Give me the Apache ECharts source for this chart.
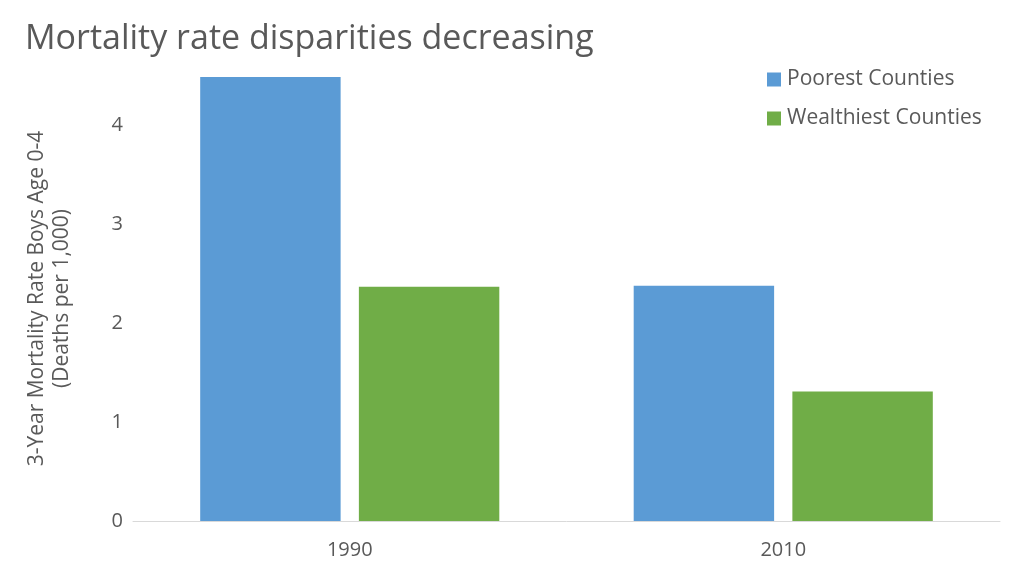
<!DOCTYPE html>
<html>
<head>
<meta charset="utf-8">
<script src="https://cdn.jsdelivr.net/npm/echarts@6/dist/echarts.min.js"></script>
<style>
  html, body { margin: 0; padding: 0; background: #fff; }
  #chart { width: 1024px; height: 576px; }
</style>
</head>
<body>
<div id="chart"></div>
<script>
var years = ['1990', '2010'];
var poorest = [4.49, 2.38];
var wealthiest = [2.37, 1.31];
var seriesNames = ['Poorest Counties', 'Wealthiest Counties'];

var myChart = echarts.init(document.getElementById('chart'));
var option = {
    animation: false,
    textStyle: { fontFamily: 'Open Sans', color: '#595959' },
    title: {
        text: 'Mortality rate disparities decreasing',
        left: 20,
        top: 17,
        textStyle: { fontFamily: 'Open Sans', fontSize: 34, fontWeight: 'normal', color: '#595959' }
    },
    legend: {
        data: seriesNames,
        orient: 'vertical',
        left: 762,
        top: 64,
        itemWidth: 14,
        itemHeight: 14,
        itemGap: 18,
        icon: 'rect',
        textStyle: { fontSize: 21, color: '#595959', padding: [0, 0, 0, 1] }
    },
    grid: { left: 133, right: 24, top: 76, bottom: 55 },
    xAxis: {
        type: 'category',
        data: years,
        axisLine: { lineStyle: { color: '#d9d9d9', width: 1 } },
        axisTick: { show: false },
        axisLabel: { fontSize: 20, color: '#595959', margin: 19 }
    },
    yAxis: {
        type: 'value',
        min: 0,
        max: 4.5,
        interval: 1,
        name: '3-Year Mortality Rate Boys Age 0-4\n(Deaths per 1,000)',
        nameLocation: 'middle',
        nameGap: 58,
        nameTextStyle: { fontSize: 21, color: '#595959', lineHeight: 25 },
        splitLine: { show: false },
        axisLine: { show: false },
        axisTick: { show: false },
        axisLabel: { fontSize: 20, color: '#595959', margin: 10, showMaxLabel: false }
    },
    series: [
        {
            name: seriesNames[0],
            type: 'bar',
            data: poorest,
            barGap: '13%',
            barCategoryGap: '31%',
            itemStyle: { color: '#5b9bd5' }
        },
        {
            name: seriesNames[1],
            type: 'bar',
            data: wealthiest,
            itemStyle: { color: '#70ad47' }
        }
    ]
};
myChart.setOption(option);
</script>
</body>
</html>
